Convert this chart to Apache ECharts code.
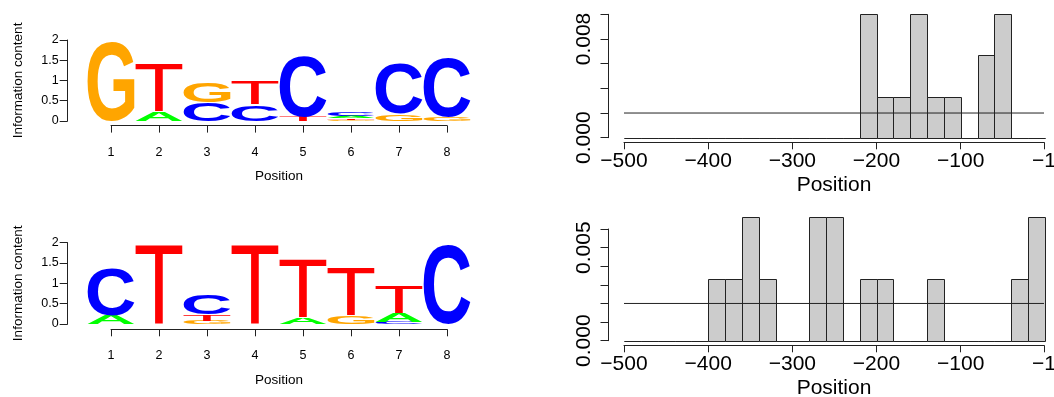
<!DOCTYPE html>
<html>
<head>
<meta charset="utf-8">
<script src="https://cdn.jsdelivr.net/npm/echarts@6/dist/echarts.min.js"></script>
<style>
  html, body { margin: 0; padding: 0; background: #fff; }
  #chart { width: 1054px; height: 397px; }
</style>
</head>
<body>
<div id="chart"></div>
<script>
// ---- Motif logos: information content (bits) per letter and position ----
const positions = [1, 2, 3, 4, 5, 6, 7, 8];
const letters = ['A', 'C', 'G', 'T'];
const letterColors = ['#00FF00', '#0000FF', '#FFA500', '#FF0000'];

// motif 1 (GTGTCNCC-like)
const motif1A = [0, 0.22, 0, 0, 0, 0.05, 0, 0];
const motif1C = [0, 0, 0.46, 0.40, 1.49, 0.08, 1.23, 1.48];
const motif1G = [1.94, 0, 0.48, 0, 0, 0.03, 0.17, 0.11];
const motif1T = [0, 1.18, 0, 0.59, 0.11, 0.04, 0, 0];

// motif 2 (CTCTTTTC-like)
const motif2A = [0.21, 0, 0, 0, 0.15, 0, 0.22, 0];
const motif2C = [1.18, 0, 0.49, 0, 0, 0, 0.05, 1.94];
const motif2G = [0, 0, 0.08, 0, 0, 0.20, 0, 0];
const motif2T = [0, 1.94, 0.15, 1.94, 1.43, 1.19, 0.66, 0];

const logoYTicks = [0, 0.5, 1, 1.5, 2];

// ---- Site position histograms (20 bp bins upstream of the TSS) ----
const breaks = [-500, -480, -460, -440, -420, -400, -380, -360, -340, -320, -300,
                -280, -260, -240, -220, -200, -180, -160, -140, -120, -100,
                -80, -60, -40, -20, 0];
const sites1Counts = [0, 0, 0, 0, 0, 0, 0, 0, 0, 0, 0, 0, 0, 0,
                      3, 1, 1, 3, 1, 1, 0, 2, 3, 0, 0];
const sites2Counts = [0, 0, 0, 0, 0, 1, 1, 2, 1, 0, 0, 2, 2, 0,
                      1, 1, 0, 0, 1, 0, 0, 0, 0, 1, 2];
const uniformDensity = 0.002;          // flat background over the window
const histXTicks = [-500, -400, -300, -200, -100, -1];
const sites1YLabels = [0, 0.008];      // labelled y ticks, panel 1
const sites2YLabels = [0, 0.005];      // labelled y ticks, panel 2

// ---------------------------------------------------------------------------
const FONT = '"Liberation Sans", Arial, Helvetica, sans-serif';
const INK = '#000';
const LINE = '#222';

// letter glyph weights and measured ink boxes (middle baseline, centred)
const letterWeights = ['bold', 'bold', 'bold', 'normal'];
const measureCtx = document.createElement('canvas').getContext('2d');
const glyphBox = letters.map(function (ch, k) {
  const font = letterWeights[k] + ' 100px "Liberation Sans"';
  measureCtx.font = font;
  measureCtx.textAlign = 'center';
  measureCtx.textBaseline = 'middle';
  const m = measureCtx.measureText(ch);
  return {
    font: font,
    left: m.actualBoundingBoxLeft,
    right: m.actualBoundingBoxRight,
    ascent: m.actualBoundingBoxAscent,
    descent: m.actualBoundingBoxDescent
  };
});

// stack letters at each position, smallest at the bottom
function stackLogo(cols) {
  const out = [];
  positions.forEach(function (p, i) {
    const col = cols.map(function (arr, k) { return { k: k, h: arr[i] }; })
      .filter(function (d) { return d.h > 0; })
      .sort(function (a, b) { return a.h - b.h; });
    let base = 0;
    col.forEach(function (d) {
      out.push([p, base, base + d.h, d.k]);
      base += d.h;
    });
  });
  return out;
}

function renderLetter(params, api) {
  const pos = api.value(0), lo = api.value(1), hi = api.value(2), k = api.value(3);
  const tl = api.coord([pos - 0.49, hi]);
  const br = api.coord([pos + 0.49, lo]);
  const g = glyphBox[k];
  const sx = (br[0] - tl[0]) / (g.left + g.right);
  const sy = (br[1] - tl[1]) / (g.ascent + g.descent);
  return {
    type: 'text',
    x: tl[0] + g.left * sx,
    y: tl[1] + g.ascent * sy,
    scaleX: sx,
    scaleY: sy,
    style: {
      text: letters[k],
      font: g.font,
      fill: letterColors[k],
      align: 'center',
      verticalAlign: 'middle',
      textAlign: 'center',
      textVerticalAlign: 'middle'
    }
  };
}

function histData(counts) {
  const total = counts.reduce(function (s, c) { return s + c; }, 0);
  return counts.map(function (c, i) {
    const w = breaks[i + 1] - breaks[i];
    return [breaks[i], breaks[i + 1], c / (total * w)];
  });
}

function renderBin(params, api) {
  const a = api.coord([api.value(0), api.value(2)]);
  const b = api.coord([api.value(1), 0]);
  return {
    type: 'rect',
    shape: { x: Math.round(a[0]) + 0.5, y: Math.round(a[1]) + 0.5,
             width: Math.round(b[0]) - Math.round(a[0]),
             height: Math.round(b[1]) - Math.round(a[1]) },
    style: { fill: '#cccccc', stroke: LINE, lineWidth: 1 }
  };
}

function minus(v) { return String(v).replace('-', '\u2212'); }

function logoAxes(gridIndex, axisOffsetX) {
  return {
    x: {
      gridIndex: gridIndex, type: 'value', min: 1, max: 8, interval: 1,
      offset: axisOffsetX,
      axisLine: { show: true, onZero: false, lineStyle: { color: LINE, width: 1 } },
      axisTick: { show: true, length: 7, lineStyle: { color: LINE } },
      axisLabel: { color: INK, fontFamily: FONT, fontSize: 12.5, margin: 20 },
      splitLine: { show: false },
      name: 'Position', nameLocation: 'middle', nameGap: 44, nameMoveOverlap: false,
      nameTextStyle: { color: INK, fontFamily: FONT, fontSize: 13.5 }
    },
    y: {
      gridIndex: gridIndex, type: 'value', min: 0, max: 2, interval: 0.5,
      offset: 43.3,
      axisLine: { show: true, onZero: false, lineStyle: { color: LINE, width: 1 } },
      axisTick: { show: true, length: 8, lineStyle: { color: LINE } },
      axisLabel: { color: INK, fontFamily: FONT, fontSize: 12.5, margin: 9,
                   formatter: function (v) { return logoYTicks.indexOf(v) >= 0 ? String(v) : ''; } },
      splitLine: { show: false },
      name: 'Information content', nameLocation: 'middle', nameGap: 42, nameRotate: 90,
      nameMoveOverlap: false,
      nameTextStyle: { color: INK, fontFamily: FONT, fontSize: 13.5 }
    }
  };
}

function histAxes(gridIndex, yMax, yLabels) {
  return {
    x: {
      gridIndex: gridIndex, type: 'value', min: histXTicks[0],
      max: histXTicks[histXTicks.length - 1], interval: 100,
      offset: 4.6,
      axisLine: { show: true, onZero: false, lineStyle: { color: LINE, width: 1 } },
      axisTick: { show: true, length: 7, lineStyle: { color: LINE } },
      axisLabel: { color: INK, fontFamily: FONT, fontSize: 21, margin: 8,
                   showMinLabel: true, showMaxLabel: true, hideOverlap: false,
                   formatter: minus },
      splitLine: { show: false },
      name: 'Position', nameLocation: 'middle', nameGap: 32.7, nameMoveOverlap: false,
      nameTextStyle: { color: INK, fontFamily: FONT, fontSize: 21 }
    },
    y: {
      gridIndex: gridIndex, type: 'value', min: 0, max: yMax,
      interval: yMax === 0.01 ? 0.002 : 0.001,
      offset: 15.5,
      axisLine: { show: true, onZero: false, lineStyle: { color: LINE, width: 1 } },
      axisTick: { show: true, length: 8, lineStyle: { color: LINE } },
      axisLabel: { color: INK, fontFamily: FONT, fontSize: 21, margin: 13.6, rotate: 90,
                   showMinLabel: true, showMaxLabel: true, hideOverlap: false,
                   formatter: function (v) {
                     return yLabels.some(function (t) { return Math.abs(t - v) < 1e-9; })
                       ? v.toFixed(3) : '';
                   } },
      splitLine: { show: false }
    }
  };
}

const logo1 = logoAxes(0, 4.8);
const logo2 = logoAxes(1, 5.3);
const hist1 = histAxes(2, 0.01, sites1YLabels);
const hist2 = histAxes(3, 0.006, sites2YLabels);

const chart = echarts.init(document.getElementById('chart'), null, { renderer: 'canvas' });
chart.setOption({
  animation: false,
  backgroundColor: '#fff',
  grid: [
    { left: 111, width: 336, top: 40, height: 80.8, outerBoundsMode: 'none', containLabel: false },
    { left: 111, width: 336, top: 242.7, height: 81.3, outerBoundsMode: 'none', containLabel: false },
    { left: 624, width: 420, top: 14.3, height: 123.4, outerBoundsMode: 'none', containLabel: false },
    { left: 624, width: 420, top: 229, height: 111.7, outerBoundsMode: 'none', containLabel: false }
  ],
  xAxis: [logo1.x, logo2.x, hist1.x, hist2.x],
  yAxis: [logo1.y, logo2.y, hist1.y, hist2.y],
  series: [
    { type: 'custom', xAxisIndex: 0, yAxisIndex: 0, clip: false,
      renderItem: renderLetter, encode: { x: 0, y: [1, 2] },
      data: stackLogo([motif1A, motif1C, motif1G, motif1T]) },
    { type: 'custom', xAxisIndex: 1, yAxisIndex: 1, clip: false,
      renderItem: renderLetter, encode: { x: 0, y: [1, 2] },
      data: stackLogo([motif2A, motif2C, motif2G, motif2T]) },
    { type: 'custom', xAxisIndex: 2, yAxisIndex: 2, clip: false,
      renderItem: renderBin, encode: { x: [0, 1], y: 2 },
      data: histData(sites1Counts) },
    { type: 'line', xAxisIndex: 2, yAxisIndex: 2, symbol: 'none', silent: true,
      lineStyle: { color: LINE, width: 1 },
      data: [[breaks[0], uniformDensity], [histXTicks[histXTicks.length - 1], uniformDensity]] },
    { type: 'custom', xAxisIndex: 3, yAxisIndex: 3, clip: false,
      renderItem: renderBin, encode: { x: [0, 1], y: 2 },
      data: histData(sites2Counts) },
    { type: 'line', xAxisIndex: 3, yAxisIndex: 3, symbol: 'none', silent: true,
      lineStyle: { color: LINE, width: 1 },
      data: [[breaks[0], uniformDensity], [histXTicks[histXTicks.length - 1], uniformDensity]] }
  ]
});
</script>
</body>
</html>
